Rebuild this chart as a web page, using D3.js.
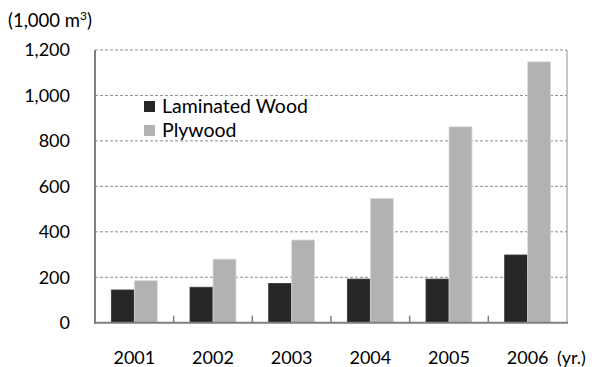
<!DOCTYPE html>
<html><head><meta charset="utf-8">
<script src="https://cdn.jsdelivr.net/npm/d3@7"></script>
<style>
body{margin:0;background:#fff;}
text{font-family:Lato,"Open Sans",sans-serif;fill:#000;}
</style></head>
<body><svg id="c" width="592" height="367"></svg>
<script>
const years = ["2001","2002","2003","2004","2005","2006"];
const laminated = [144, 156, 173, 192, 192, 298];
const plywood = [185, 280, 364, 547, 862, 1148];
const seriesNames = ["Laminated Wood","Plywood"];
const seriesColors = ["#262626","#b2b2b2"];
const yTicks = [0,200,400,600,800,1000,1200];

const svg = d3.select("#c");
const L=95, R=567, T=50, B=322.7;
const x = d3.scaleBand().domain(years).range([L,R]).paddingInner(0).paddingOuter(0);
const y = d3.scaleLinear().domain([0,1200]).range([B,T]);
const bw = 23;

// gridlines
svg.append("g").selectAll("line").data(yTicks.filter(d=>d>0)).join("line")
  .attr("x1",L).attr("x2",R).attr("y1",d=>y(d)).attr("y2",d=>y(d))
  .attr("stroke","#8c8c8c").attr("stroke-width",1).attr("stroke-dasharray","3,2");

// right border
svg.append("line").attr("x1",R).attr("x2",R).attr("y1",T).attr("y2",B)
  .attr("stroke","#8c8c8c").attr("stroke-width",1);

// bars
const data = years.map((yr,i)=>({yr, vals:[laminated[i],plywood[i]]}));
const g = svg.append("g");
data.forEach(d=>{
  const c = x(d.yr)+x.bandwidth()/2;
  d.vals.forEach((v,k)=>{
    g.append("rect")
      .attr("x", c - bw + k*bw).attr("width", bw)
      .attr("y", y(v)).attr("height", y(0)-y(v))
      .attr("fill", seriesColors[k])
      .attr("stroke", k===1 ? "#dcdcdc" : "#3a3a3a").attr("stroke-width",0.8);
  });
});

// axes
svg.append("line").attr("x1",L).attr("x2",L).attr("y1",T).attr("y2",B+1)
  .attr("stroke","#808080").attr("stroke-width",2);
svg.append("line").attr("x1",L-1).attr("x2",R+1).attr("y1",B).attr("y2",B)
  .attr("stroke","#808080").attr("stroke-width",2);
// category ticks
svg.append("g").selectAll("line").data(years.slice(1)).join("line")
  .attr("x1",d=>x(d)).attr("x2",d=>x(d)).attr("y1",B).attr("y2",B-7)
  .attr("stroke","#808080").attr("stroke-width",1.5);

// y labels
svg.append("g").selectAll("text").data(yTicks).join("text")
  .attr("x",70).attr("y",d=>y(d)).attr("dy","0.36em").attr("text-anchor","end")
  .style("font-size","18px").text(d=>d3.format(",")(d));

// x labels
svg.append("g").selectAll("text").data(years).join("text")
  .attr("x",d=>x(d)+x.bandwidth()/2).attr("y",364).attr("text-anchor","middle")
  .style("font-size","18px").text(d=>d);
svg.append("text").attr("x",557).attr("y",364).style("font-size","18px").text("(yr.)");

// unit label
const u = svg.append("text").attr("x",8).attr("y",27).style("font-size","18.5px");
u.append("tspan").text("(1,000 m");
u.append("tspan").attr("dy",-7).style("font-size","12px").text("3");
u.append("tspan").attr("dy",7).text(")");

// legend
const lg = svg.append("g");
seriesNames.forEach((n,k)=>{
  lg.append("rect").attr("x",144).attr("y",101+24*k).attr("width",11).attr("height",11)
    .attr("fill",seriesColors[k]);
  lg.append("text").attr("x",162).attr("y",112.5+24*k).style("font-size","19.5px").text(n);
});
</script></body></html>
